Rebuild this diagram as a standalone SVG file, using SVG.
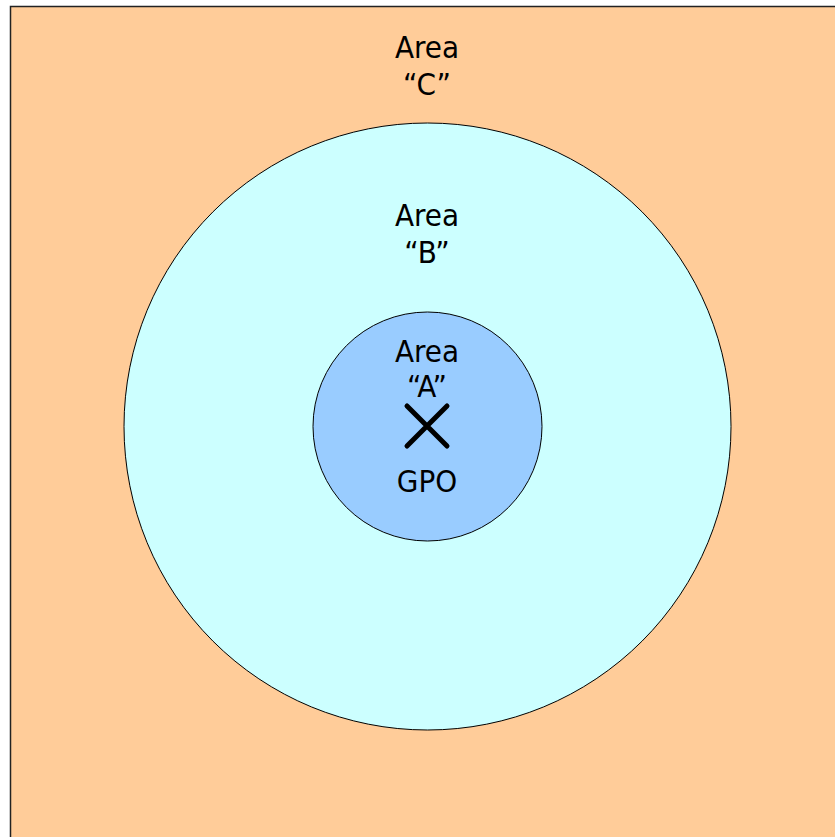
<svg xmlns="http://www.w3.org/2000/svg" width="835" height="837" viewBox="0 0 835 837">
  <style>
    .label { font-family: "DejaVu Sans Condensed", "DejaVu Sans", sans-serif; font-size: 31px; fill: #000; text-anchor: middle; }
    .ring { stroke: #000; stroke-width: 1; }
  </style>
  <rect x="0" y="0" width="835" height="837" fill="#ffffff"/>
  <g id="area-c">
    <rect x="10.5" y="6.5" width="830" height="840" fill="#ffcc99" stroke="#222" stroke-width="1.5"/>
    <text class="label" x="427" y="58">Area</text>
    <text class="label" x="427" y="95">“C”</text>
  </g>
  <g id="area-b">
    <circle class="ring" cx="427.5" cy="426.5" r="303.5" fill="#ccffff"/>
    <text class="label" x="427" y="226">Area</text>
    <text class="label" x="427" y="263">“B”</text>
  </g>
  <g id="area-a">
    <circle class="ring" cx="427.5" cy="426.5" r="114.5" fill="#99ccff"/>
    <text class="label" x="427" y="362">Area</text>
    <text class="label" x="427" y="397">“A”</text>
  </g>
  <g id="gpo">
    <path d="M407 406 L447 446 M447 406 L407 446" stroke="#000" stroke-width="5" stroke-linecap="round" fill="none"/>
    <text class="label" x="427" y="492">GPO</text>
  </g>
</svg>
